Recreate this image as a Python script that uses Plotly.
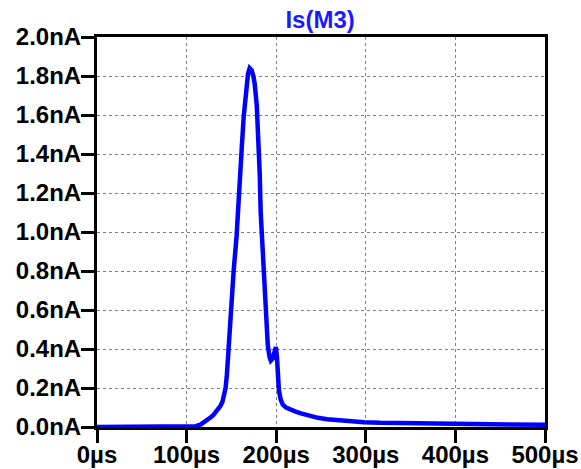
import plotly.graph_objects as go

time_us = [0, 105, 110, 115.5, 120, 123, 127, 130, 133, 135.6, 138, 140, 142, 143.5, 145, 146.9,
           149, 152.5, 155.8, 158, 161.4, 163.7, 166, 168.5, 170.4, 172.5, 174.5, 176, 178.3,
           180.5, 181.6, 182.7, 183.9, 186, 187.2, 189.5, 190.6, 192.5, 194, 196, 198, 199.6,
           200.8, 201.8, 203, 205, 207.4, 211, 216, 221, 227.6, 236, 246.6, 257, 269, 283, 298,
           316, 336, 375, 418, 460, 500]
current_nA = [0, 0, 0.004, 0.012, 0.025, 0.038, 0.05, 0.062, 0.078, 0.095, 0.11, 0.13, 0.16, 0.2,
              0.27, 0.4, 0.6, 0.8, 0.98, 1.2, 1.42, 1.59, 1.73, 1.81, 1.84, 1.83, 1.8, 1.76, 1.65,
              1.48, 1.3, 1.1, 0.98, 0.78, 0.64, 0.5, 0.42, 0.36, 0.34, 0.35, 0.38, 0.41,
              0.36, 0.28, 0.19, 0.14, 0.115, 0.1, 0.088, 0.08, 0.07, 0.058, 0.047, 0.04, 0.034,
              0.029, 0.025, 0.022, 0.02, 0.017, 0.015, 0.013, 0.012]

x_ticks = [0, 100, 200, 300, 400, 500]
x_labels = ["0µs", "100µs", "200µs", "300µs", "400µs", "500µs"]
y_ticks = [0.0, 0.2, 0.4, 0.6, 0.8, 1.0, 1.2, 1.4, 1.6, 1.8, 2.0]
y_labels = ["0.0nA", "0.2nA", "0.4nA", "0.6nA", "0.8nA", "1.0nA", "1.2nA", "1.4nA",
            "1.6nA", "1.8nA", "2.0nA"]

fig = go.Figure()
fig.add_trace(go.Scatter(x=time_us, y=current_nA, mode="lines",
                         line=dict(color="#0000ff", width=4.5), hoverinfo="skip"))

fnt = dict(family="Liberation Sans, Arial, sans-serif", size=24, color="black")
axis_common = dict(showline=True, linewidth=3, linecolor="black", mirror=True,
                   ticks="outside", ticklen=13, tickwidth=3, tickcolor="black",
                   showgrid=True, gridcolor="#808080", gridwidth=1, griddash="3px,3px",
                   zeroline=False, tickfont=fnt, automargin=False)

fig.update_xaxes(range=[0, 500], tickvals=x_ticks, ticktext=[f"<b>{t}</b>" for t in x_labels],
                 ticklabelstandoff=-9, **axis_common)
fig.update_yaxes(range=[0, 2.0], tickvals=y_ticks, ticktext=[f"<b>{t}</b>" for t in y_labels],
                 ticklabelstandoff=-5, **axis_common)

fig.update_layout(
    width=581, height=469,
    margin=dict(l=97, r=36, t=37, b=42),
    plot_bgcolor="white", paper_bgcolor="white",
    showlegend=False,
    title=dict(text="<b>Is(M3)</b>", x=0.551, xanchor="center", y=0.958, yanchor="middle",
               font=dict(family="Liberation Sans, Arial, sans-serif", size=24, color="#1a1aff")),
)

fig.write_html("out.html")
